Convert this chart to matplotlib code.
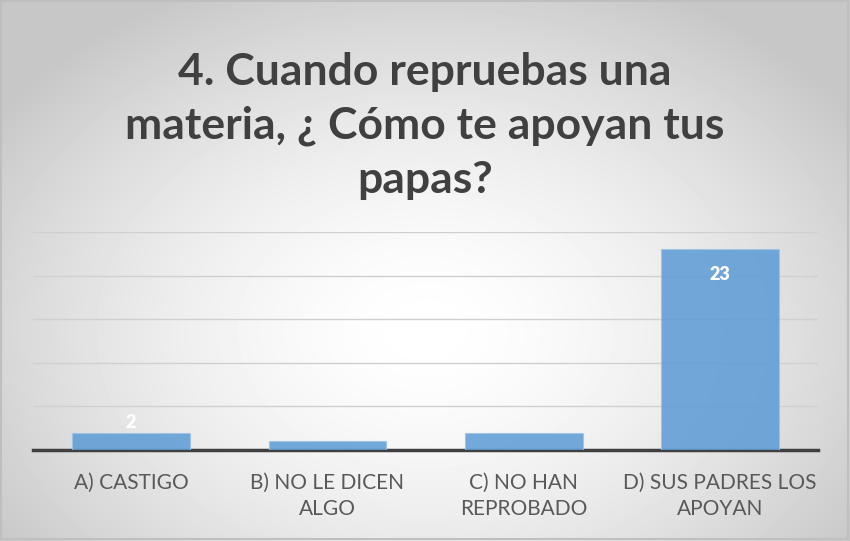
import numpy as np
import matplotlib.pyplot as plt

categories = ['A) CASTIGO', 'B) NO LE DICEN\nALGO', 'C) NO HAN\nREPROBADO', 'D) SUS PADRES LOS\nAPOYAN']
values = [2, 1, 2, 23]
labels = ['2', '', '', '23']
title = '4. Cuando repruebas una\nmateria, ¿ Cómo te apoyan tus\npapas?'

plt.rcParams['font.family'] = ['Lato', 'DejaVu Sans']

fig = plt.figure(figsize=(8.5, 5.41), dpi=100)

# radial gradient background
bg = fig.add_axes([0, 0, 1, 1], zorder=-10)
yy, xx = np.mgrid[0:541, 0:850]
r = np.sqrt(((xx - 425) / 520.0) ** 2 + ((yy - 330) / 380.0) ** 2)
shade = np.clip(1.0 - 0.22 * r ** 1.6, 0.78, 1.0)
bg.imshow(shade, cmap='gray', vmin=0, vmax=1, aspect='auto', extent=[0, 850, 541, 0])
bg.add_patch(plt.Rectangle((1, 1), 847, 538, fill=False, edgecolor='#bfbfbf', lw=1.5))
bg.set_xlim(0, 850)
bg.set_ylim(541, 0)
bg.axis('off')

ax = fig.add_axes([33 / 850, 91 / 541, 785 / 850, 218 / 541])
ax.patch.set_alpha(0)
x = np.arange(len(categories))
bars = ax.bar(x, values, width=0.6, color='#5b9bd5', alpha=0.85, edgecolor='#9dc3e6', linewidth=0.8, zorder=3)
for b, lab in zip(bars, labels):
    if not lab:
        continue
    h = b.get_height()
    if h > 5:
        ax.text(b.get_x() + b.get_width() / 2, h - 1.9, lab, ha='center', va='top',
                color='white', fontsize=13, fontweight='heavy', zorder=4)
    else:
        ax.text(b.get_x() + b.get_width() / 2, h + 0.2, lab, ha='center', va='bottom',
                color='white', fontsize=13, fontweight='heavy', zorder=4)

ax.set_xlim(-0.5, 3.5)
ax.set_ylim(0, 25)
ax.set_yticks([0, 5, 10, 15, 20, 25])
ax.yaxis.grid(True, color='#d0d0d0', linewidth=1)
ax.set_axisbelow(True)
for s in ['top', 'right', 'left']:
    ax.spines[s].set_visible(False)
ax.spines['bottom'].set_color('#404040')
ax.spines['bottom'].set_linewidth(2.5)
ax.tick_params(axis='y', left=False, labelleft=False)
ax.tick_params(axis='x', bottom=False, pad=13)
ax.set_xticks(x)
ax.set_xticklabels(categories, fontsize=15, color='#595959', linespacing=1.35)

fig.text(0.5, 0.63, title, ha='center', va='bottom', fontsize=32, fontweight='bold',
         color='#404040', linespacing=1.42)

fig.savefig('out.png', dpi=100)
